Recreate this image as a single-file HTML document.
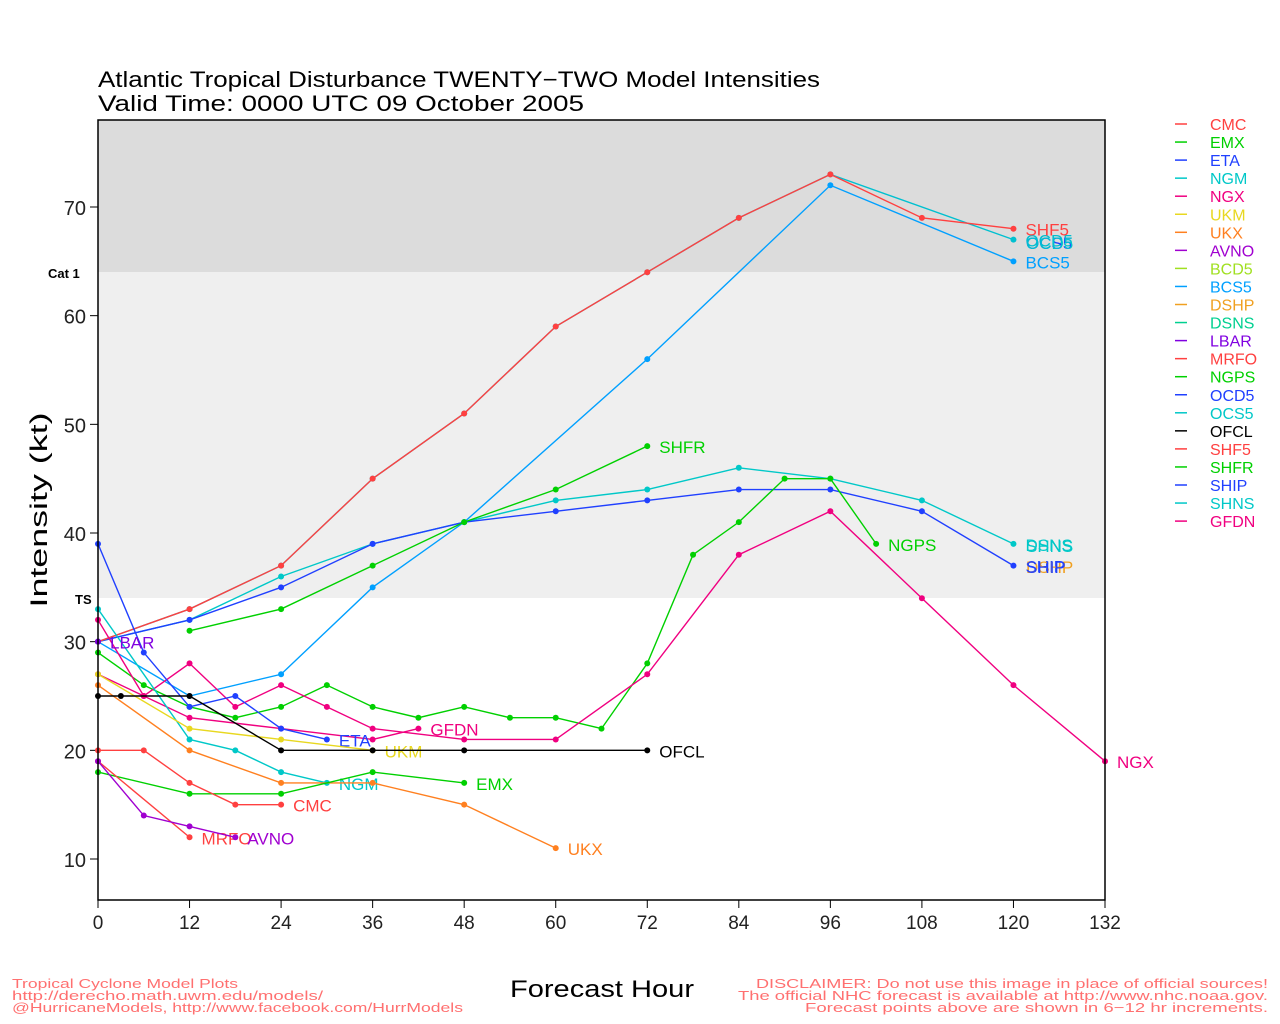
<!DOCTYPE html>
<html><head><meta charset="utf-8"><style>
html,body{margin:0;padding:0;background:#fff;}
svg{display:block;font-family:"Liberation Sans","DejaVu Sans",sans-serif;}
</style></head><body>
<svg id="s" width="1280" height="1024" xmlns="http://www.w3.org/2000/svg">
<rect width="1280" height="1024" fill="#fff"/>
<rect x="98" y="120" width="1007" height="152" fill="#dcdcdc"/>
<rect x="98" y="272" width="1007" height="326" fill="#efefef"/>
<text x="98" y="87" font-size="22" textLength="722" lengthAdjust="spacingAndGlyphs">Atlantic Tropical Disturbance TWENTY−TWO Model Intensities</text>
<text x="98" y="111" font-size="22" textLength="486" lengthAdjust="spacingAndGlyphs">Valid Time: 0000 UTC 09 October 2005</text>
<text x="48" y="278" font-size="13" font-weight="bold">Cat 1</text>
<text x="75" y="604" font-size="13" font-weight="bold">TS</text>
<text x="47" y="510" font-size="24" transform="rotate(-90 47 510)" text-anchor="middle" textLength="195" lengthAdjust="spacingAndGlyphs">Intensity (kt)</text>
<text x="602" y="997" font-size="24" text-anchor="middle" textLength="184" lengthAdjust="spacingAndGlyphs">Forecast Hour</text>
<g fill="#ff7070" font-size="13">
<text x="12" y="988" textLength="226" lengthAdjust="spacingAndGlyphs">Tropical Cyclone Model Plots</text>
<text x="12" y="1000" textLength="311" lengthAdjust="spacingAndGlyphs">http://derecho.math.uwm.edu/models/</text>
<text x="12" y="1012" textLength="451" lengthAdjust="spacingAndGlyphs">@HurricaneModels, http://www.facebook.com/HurrModels</text>
<text x="1268" y="988" text-anchor="end" textLength="512" lengthAdjust="spacingAndGlyphs">DISCLAIMER: Do not use this image in place of official sources!</text>
<text x="1268" y="1000" text-anchor="end" textLength="530" lengthAdjust="spacingAndGlyphs">The official NHC forecast is available at http://www.nhc.noaa.gov.</text>
<text x="1268" y="1012" text-anchor="end" textLength="463" lengthAdjust="spacingAndGlyphs">Forecast points above are shown in 6−12 hr increments.</text>
</g>
<g id="d"></g>
<rect x="98" y="120" width="1007" height="780" fill="none" stroke="#000" stroke-width="1.5"/>
</svg>
<script>
var g=document.getElementById('d');var ns='http://www.w3.org/2000/svg';
function X(h){return 98+h*1007/132}function Y(v){return 859-(v-10)*652/60}
function el(t,a,txt){var e=document.createElementNS(ns,t);for(var k in a)e.setAttribute(k,a[k]);if(txt)e.textContent=txt;g.appendChild(e);return e}
for(var v=10;v<=70;v+=10){el('line',{x1:90,x2:98,y1:Y(v),y2:Y(v),stroke:'#000'});el('text',{x:86,y:Y(v)+8,'font-size':20,'text-anchor':'end',fill:'#222'},''+v)}
for(var h=0;h<=132;h+=12){el('line',{x1:X(h),x2:X(h),y1:900,y2:908,stroke:'#000'});el('text',{x:X(h),y:929,'font-size':19,'text-anchor':'middle',fill:'#222'},''+h)}
var S=[
['SHNS','#00c8c8',[[0,30],[12,32],[24,36],[36,39],[48,41],[60,43],[72,44],[84,46],[96,45],[108,43],[120,39]],'DSNS'],
['SHIP','#2040ff',[[0,30],[12,32],[24,35],[36,39],[48,41],[60,42],[72,43],[84,44],[96,44],[108,42],[120,37]],'SHIP'],
['BCS5','#00a0ff',[[0,30],[12,25],[24,27],[36,35],[48,41],[72,56],[96,72],[120,65]],'BCS5'],
['OCD5','#00c0d0',[[0,30],[12,33],[24,37],[36,45],[48,51],[60,59],[72,64],[84,69],[96,73],[120,67]],'OCD5'],
['SHF5','#ff4040',[[0,30],[12,33],[24,37],[36,45],[48,51],[60,59],[72,64],[84,69],[96,73],[108,69],[120,68]],'SHF5'],
['SHFR','#00d000',[[12,31],[24,33],[36,37],[48,41],[60,44],[72,48]],'SHFR'],
['NGPS','#00d000',[[0,29],[6,26],[12,24],[18,23],[24,24],[30,26],[36,24],[42,23],[48,24],[54,23],[60,23],[66,22],[72,28],[78,38],[84,41],[90,45],[96,45],[102,39]],'NGPS'],
['NGX','#f00080',[[0,32],[6,25],[12,28],[18,24],[24,26],[30,24],[36,22],[48,21],[60,21],[72,27],[84,38],[96,42],[108,34],[120,26],[132,19]],'NGX'],
['GFDN','#f00080',[[0,27],[6,25],[12,23],[24,22],[36,21],[42,22]],'GFDN'],
['ETA','#2040ff',[[0,39],[6,29],[12,24],[18,25],[24,22],[30,21]],'ETA'],
['NGM','#00c8c8',[[0,33],[12,21],[18,20],[24,18],[30,17]],'NGM'],
['UKM','#e8d820',[[0,27],[12,22],[24,21],[36,20]],'UKM'],
['UKX','#ff8020',[[0,26],[12,20],[24,17],[36,17],[48,15],[60,11]],'UKX'],
['EMX','#00d000',[[0,18],[12,16],[24,16],[36,18],[48,17]],'EMX'],
['CMC','#ff4040',[[0,20],[6,20],[12,17],[18,15],[24,15]],'CMC'],
['MRFO','#ff4040',[[0,19],[12,12]],'MRFO'],
['AVNO','#a000d0',[[0,19],[6,14],[12,13],[18,12]],'AVNO'],
['OFCL','#000000',[[0,25],[3,25],[12,25],[24,20],[36,20],[48,20],[72,20]],'OFCL'],
['LBAR','#8000e0',[[0,30]],'LBAR']];
S.forEach(function(s){var p=s[2].map(function(q){return X(q[0])+','+Y(q[1])}).join(' ');
if(s[2].length>1)el('polyline',{points:p,fill:'none',stroke:s[1],'stroke-width':1.4});
s[2].forEach(function(q){el('circle',{cx:X(q[0]),cy:Y(q[1]),r:3,fill:s[1]})});
var l=s[2][s[2].length-1];el('text',{x:X(l[0])+12,y:Y(l[1])+7,'font-size':17,fill:s[1]},s[3]);});
el('text',{x:1026,y:552,'font-size':17,fill:'#00c8c8'},'SHNS');
el('text',{x:1026,y:573,'font-size':17,fill:'#f0a020'},'DSHP');
el('text',{x:1026,y:573,'font-size':17,fill:'#2040ff'},'SHIP');
el('text',{x:1026,y:249,'font-size':17,fill:'#2040ff'},'OCS5');
el('text',{x:1026,y:249,'font-size':17,fill:'#00c0d0'},'OCD5');
var L=[['CMC','#ff4040'],['EMX','#00d000'],['ETA','#2040ff'],['NGM','#00c8c8'],['NGX','#f00080'],['UKM','#e8d820'],['UKX','#ff8020'],['AVNO','#a000d0'],['BCD5','#a0e020'],['BCS5','#00a0ff'],['DSHP','#f0a020'],['DSNS','#00d090'],['LBAR','#8000e0'],['MRFO','#ff4040'],['NGPS','#00d000'],['OCD5','#2040ff'],['OCS5','#00c8c8'],['OFCL','#000000'],['SHF5','#ff4040'],['SHFR','#00d000'],['SHIP','#2040ff'],['SHNS','#00c8c8'],['GFDN','#f00080']];
L.forEach(function(l,i){var y=124+i*18.05;el('line',{x1:1175,x2:1187,y1:y,y2:y,stroke:l[1],'stroke-width':1.5});el('text',{x:1210,y:y+6,'font-size':16,fill:l[1]},l[0])});
</script>
</body></html>
